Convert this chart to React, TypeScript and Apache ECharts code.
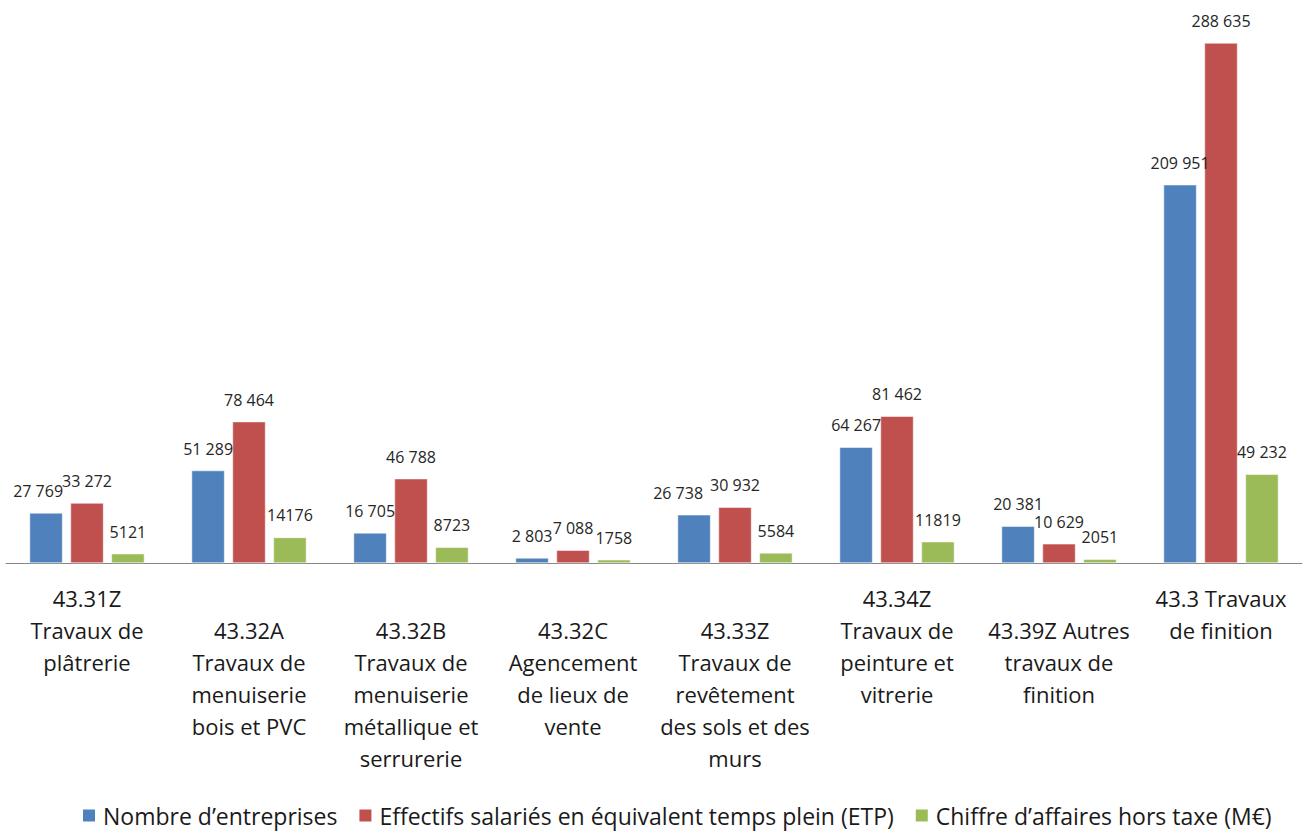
import React, { useEffect, useRef } from "react";
import * as echarts from "echarts";

const categories: string[] = [
  "43.31Z\nTravaux de\nplâtrerie",
  "43.32A\nTravaux de\nmenuiserie\nbois et PVC",
  "43.32B\nTravaux de\nmenuiserie\nmétallique et\nserrurerie",
  "43.32C\nAgencement\nde lieux de\nvente",
  "43.33Z\nTravaux de\nrevêtement\ndes sols et des\nmurs",
  "43.34Z\nTravaux de\npeinture et\nvitrerie",
  "43.39Z Autres\ntravaux de\nfinition",
  "43.3 Travaux\nde finition",
];

const seriesNames: string[] = [
  "Nombre d’entreprises",
  "Effectifs salariés en équivalent temps plein (ETP)",
  "Chiffre d’affaires hors taxe (M€)",
];

const nombreEntreprises: number[] = [27769, 51289, 16705, 2803, 26738, 64267, 20381, 209951];
const effectifsETP: number[] = [33272, 78464, 46788, 7088, 30932, 81462, 10629, 288635];
const chiffreAffaires: number[] = [5121, 14176, 8723, 1758, 5584, 11819, 2051, 49232];

// which labels are printed with a thousands space, per series (as in the source)
const groupedNombre: boolean[] = [true, true, true, true, true, true, true, true];
const groupedETP: boolean[] = [true, true, true, true, true, true, true, true];
const groupedCA: boolean[] = [false, false, false, false, false, false, false, true];

// layout only: label vertical offset (in lines) per category, and data-label x nudges
const labelShift: number[] = [0, 1, 1, 1, 1, 0, 1, 0];
const nombreLabelDx: number[] = [-8, 0, 0, 0, -16, 0, 0, 0];
const zeroDx: number[] = [0, 0, 0, 0, 0, 0, 0, 0];

const colors = ["#4F81BD", "#C0504D", "#9BBB59"];
const FONT = "'Open Sans', 'Noto Sans', sans-serif";

const spaced = (v: number) => String(v).replace(/\B(?=(\d{3})+(?!\d))/g, " ");

export default function App() {
  const ref = useRef<HTMLDivElement>(null);
  useEffect(() => {
    if (!ref.current) return;
    const chart = echarts.init(ref.current, undefined, { renderer: "svg" });
    const mk = (name: string, data: number[], i: number, grouped: boolean[], dx: number[]) => ({
      name,
      type: "bar",
      data: data.map((v, k) => ({ value: v, label: { offset: [dx[k], 0] } })),
      barWidth: 33,
      barGap: "24%",
      itemStyle: { color: colors[i], borderColor: "#ffffff", borderWidth: 0.5 },
      label: {
        show: true,
        position: "top",
        distance: 14,
        fontFamily: FONT,
        fontSize: 16,
        color: "#262626",
        formatter: (p: any) => (grouped[p.dataIndex] ? spaced(p.value) : String(p.value)),
      },
    });
    chart.setOption({
      animation: false,
      backgroundColor: "#ffffff",
      textStyle: { fontFamily: FONT },
      grid: { left: 6, right: 2, top: 43, bottom: 268, containLabel: false },
      legend: {
        left: 76,
        top: 799,
        itemWidth: 14,
        itemHeight: 14,
        itemGap: 20,
        icon: "rect",
        textStyle: { fontFamily: FONT, fontSize: 23, color: "#1a1a1a", padding: [0, 0, 0, 2] },
        data: seriesNames,
      },
      xAxis: {
        type: "category",
        data: categories,
        axisLine: { show: true, lineStyle: { color: "#868686", width: 1 } },
        axisTick: { show: false },
        axisLabel: {
          interval: 0,
          margin: 19,
          fontFamily: FONT,
          fontSize: 22,
          lineHeight: 32,
          color: "#1a1a1a",
          formatter: (v: string, idx: number) => "\n".repeat(labelShift[idx]) + v,
        },
      },
      yAxis: {
        type: "value",
        min: 0,
        max: 288635,
        show: false,
        splitLine: { show: false },
      },
      series: [
        mk(seriesNames[0], nombreEntreprises, 0, groupedNombre, nombreLabelDx),
        mk(seriesNames[1], effectifsETP, 1, groupedETP, zeroDx),
        mk(seriesNames[2], chiffreAffaires, 2, groupedCA, zeroDx),
      ],
    });
    return () => chart.dispose();
  }, []);
  return <div ref={ref} style={{ width: 1304, height: 831, position: "absolute", left: 0, top: 0 }} />;
}
